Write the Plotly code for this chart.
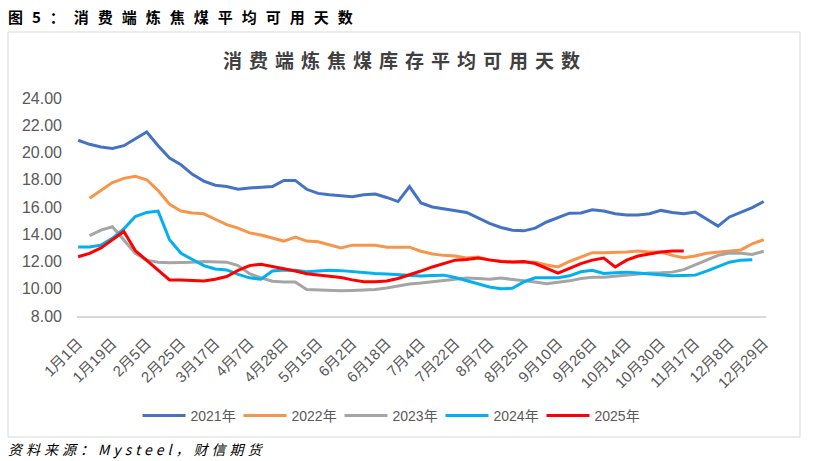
import plotly.graph_objects as go

# ---------------- data ----------------
tick_labels = ["1月1日", "1月19日", "2月5日", "2月25日", "3月17日", "4月7日", "4月28日",
               "5月15日", "6月2日", "6月18日", "7月4日", "7月22日", "8月7日", "8月25日",
               "9月10日", "9月26日", "10月14日", "10月30日", "11月17日", "12月8日", "12月29日"]
n_points = 61          # category positions along the x axis (labels shown every 3rd)
label_step = 3

y2021 = [20.9, 20.6, 20.4, 20.3, 20.5, 21.0, 21.5, 20.5, 19.6, 19.1,
         18.4, 17.9, 17.6, 17.5, 17.3, 17.4, 17.45, 17.5, 17.95, 17.95,
         17.3, 17.0, 16.9, 16.8, 16.75, 16.9, 16.95, 16.7, 16.4, 17.5,
         16.3, 16.0, 15.85, 15.7, 15.6, 15.2, 14.8, 14.5, 14.3, 14.25,
         14.45, 14.9, 15.2, 15.55, 15.56, 15.8, 15.7, 15.5, 15.41, 15.41,
         15.5, 15.75, 15.6, 15.5, 15.63, 15.1, 14.6, 15.27, 15.6, 15.95, 16.4]
y2022 = [None, 16.65, 17.25, 17.8, 18.1, 18.25, 18.0, 17.2, 16.2, 15.7,
         15.56, 15.5, 15.1, 14.7, 14.45, 14.1, 13.95, 13.7, 13.5, 13.8,
         13.5, 13.45, 13.2, 13.0, 13.2, 13.2, 13.2, 13.05, 13.05, 13.05,
         12.75, 12.55, 12.45, 12.4, 12.25, 12.33, 12.1, 12.0, 11.95, 11.95,
         11.95, 11.75, 11.6, 12.0, 12.35, 12.65, 12.65, 12.65, 12.7, 12.77,
         12.7, 12.7, 12.45, 12.28, 12.4, 12.6, 12.7, 12.77, 12.85, 13.3, 13.6]
y2023 = [None, 13.9, 14.3, 14.55, 13.6, 12.6, 12.1, 11.95, 11.9, 11.9,
         11.95, 12.0, 12.0, 11.95, 11.7, 11.1, 10.8, 10.55, 10.5, 10.5,
         9.95, 9.9, 9.88, 9.85, 9.88, 9.9, 9.95, 10.05, 10.2, 10.35,
         10.42, 10.5, 10.6, 10.7, 10.78, 10.75, 10.7, 10.78, 10.7, 10.6,
         10.5, 10.37, 10.45, 10.58, 10.75, 10.85, 10.85, 10.92, 11.0, 11.1,
         11.16, 11.18, 11.22, 11.4, 11.75, 12.1, 12.45, 12.62, 12.6, 12.52, 12.75]
y2024 = [13.06, 13.06, 13.2, 13.7, 14.4, 15.3, 15.6, 15.7, 13.6, 12.6,
         12.15, 11.7, 11.45, 11.38, 11.05, 10.8, 10.7, 11.3, 11.38, 11.35,
         11.25, 11.3, 11.35, 11.33, 11.25, 11.2, 11.12, 11.08, 11.02, 10.97,
         10.94, 10.98, 11.0, 10.82, 10.6, 10.35, 10.13, 10.0, 10.03, 10.5,
         10.8, 10.8, 10.8, 10.95, 11.25, 11.35, 11.12, 11.17, 11.22, 11.15,
         11.08, 11.05, 10.95, 10.98, 11.0, 11.3, 11.65, 11.95, 12.1, 12.12, None]
y2025 = [12.35, 12.6, 13.0, 13.6, 14.2, 12.8, 12.1, 11.4, 10.65, 10.65,
         10.62, 10.57, 10.7, 10.9, 11.35, 11.7, 11.8, 11.65, 11.5, 11.3,
         11.1, 11.0, 10.95, 10.82, 10.65, 10.52, 10.52, 10.57, 10.75, 11.0,
         11.3, 11.6, 11.85, 12.1, 12.15, 12.25, 12.12, 12.0, 11.96, 12.0,
         11.85, 11.5, 11.15, 11.5, 11.85, 12.1, 12.25, 11.6, 12.1, 12.4,
         12.55, 12.7, 12.77, 12.77, None, None, None, None, None, None, None]

series_names = ["2021年", "2022年", "2023年", "2024年", "2025年"]
series_values = [y2021, y2022, y2023, y2024, y2025]
series_colors = ["#4472C4", "#F7964A", "#A5A5A5", "#00B0F0", "#FF0000"]

# ---------------- layout geometry (pixels) ----------------
W, H = 816, 461
L, R, T, B = 77, 766, 98, 316
x_range = [-0.1, n_points - 1 + 0.2]


def px_x(x):
    return (x - L) / (R - L)


def px_y(y):
    return (B - y) / (B - T)


x_idx = list(range(n_points))
fig = go.Figure()
for name, vals, col in zip(series_names, series_values, series_colors):
    fig.add_trace(go.Scatter(x=x_idx, y=vals, name=name, mode="lines",
                             line=dict(color=col, width=3), connectgaps=False))

CJK = "Liberation Sans, Arial, Noto Sans CJK SC, sans-serif"
fig.update_layout(
    width=W, height=H,
    margin=dict(l=L, r=W - R, t=T, b=H - B, pad=0),
    paper_bgcolor="white", plot_bgcolor="white",
    showlegend=True,
    legend=dict(orientation="h", x=px_x(390), y=px_y(416), xanchor="center", yanchor="middle",
                font=dict(family=CJK, size=14, color="#595959"),
                entrywidth=56, entrywidthmode="pixels", bgcolor="rgba(0,0,0,0)",
                itemwidth=30, tracegroupgap=0),
    xaxis=dict(range=x_range, tickmode="array", automargin=False,
               tickvals=[i * label_step for i in range(len(tick_labels))],
               ticktext=tick_labels, tickangle=-45,
               tickfont=dict(family=CJK, size=15, color="#595959"),
               showgrid=False, zeroline=False, showline=True,
               linecolor="#D9D9D9", linewidth=1.5, ticks="", ticklabelstandoff=11),
    yaxis=dict(range=[8, 24], tick0=8, dtick=2, tickformat=".2f", automargin=False,
               tickfont=dict(family=CJK, size=16, color="#595959"),
               showgrid=False, zeroline=False, showline=False, ticks="",
               ticklabelstandoff=14),
    shapes=[dict(type="rect", xref="paper", yref="paper",
                 x0=px_x(8), x1=px_x(800), y0=px_y(437), y1=px_y(32),
                 line=dict(color="#D9D9D9", width=1), fillcolor="rgba(0,0,0,0)", layer="below")],
    annotations=[
        dict(text="图5：消费端炼焦煤平均可用天数", xref="paper", yref="paper",
             x=px_x(6), y=px_y(16), xanchor="left", yanchor="middle", showarrow=False,
             font=dict(family="Noto Sans CJK SC", size=15, color="#000000", weight="bold")),
        dict(text="消费端炼焦煤库存平均可用天数", xref="paper", yref="paper",
             x=px_x(405), y=px_y(60), xanchor="center", yanchor="middle", showarrow=False,
             font=dict(family="Noto Sans CJK SC", size=19, color="#404040", weight="bold")),
        dict(text="资料来源：Mysteel，财信期货", xref="paper", yref="paper",
             x=px_x(6), y=px_y(449), xanchor="left", yanchor="middle", showarrow=False,
             font=dict(family="Noto Sans CJK SC", size=14, color="#000000", style="italic")),
    ],
)

post_js = """
document.documentElement.style.margin = '0';
document.body.style.margin = '0';
document.body.style.overflow = 'hidden';
var gd = document.getElementById('{plot_id}');
function restyleBits(){
  gd.querySelectorAll('.annotation-text').forEach(function(t){
    if (t.getAttribute('data-sp')) return;
    var s = t.textContent || '';
    var sp = 0, left = false;
    if (s.indexOf('图5') === 0) { sp = 9; left = true; }
    else if (s.indexOf('消费端') === 0) { sp = 7; }
    else if (s.indexOf('资料来源') === 0) { sp = 4; left = true; }
    if (!sp) return;
    var w0 = t.getComputedTextLength();
    t.style.letterSpacing = sp + 'px';
    var w1 = t.getComputedTextLength();
    if (left) {
      var x0 = parseFloat(t.getAttribute('x')) || 0;
      t.setAttribute('x', x0 + (w1 - w0) / 2);
    }
    t.setAttribute('data-sp', '1');
  });
  // longer legend line samples, as in the original
  gd.querySelectorAll('.legend .traces').forEach(function(g){
    g.querySelectorAll('path.js-line').forEach(function(p){ p.setAttribute('d', 'M5,0h43'); });
    g.querySelectorAll('text.legendtext').forEach(function(t){ t.setAttribute('x', 53); });
  });
}
restyleBits();
gd.on('plotly_afterplot', restyleBits);
"""

fig.write_html("out.html", post_script=post_js, config={"displayModeBar": False})
